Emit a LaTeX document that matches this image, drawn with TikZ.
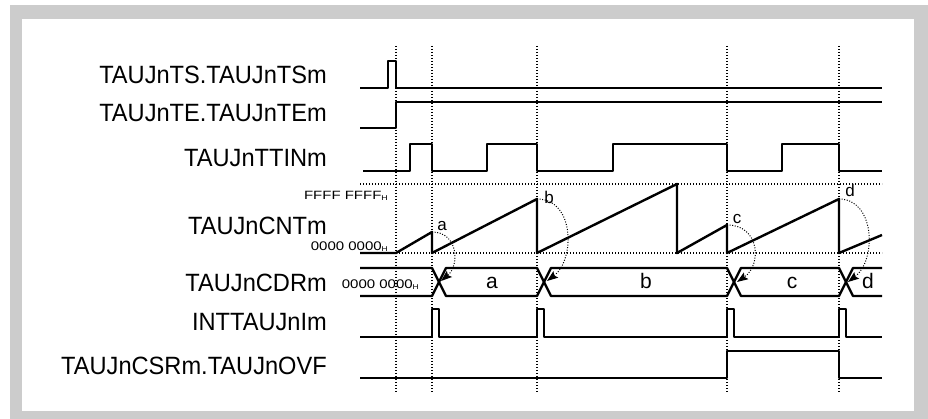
\documentclass[tikz,border=0pt]{standalone}
\usepackage{fontspec}
\setmainfont{Liberation Sans}
\usetikzlibrary{arrows.meta}
\definecolor{frameGray}{HTML}{CCCCCC}
\newcommand{\hexsub}{\raisebox{-0.8pt}{\fontsize{7}{7}\selectfont H}}
\newcommand{\narrow}[1]{\scalebox{0.945}[1]{#1}}

\begin{document}
\begin{tikzpicture}[x=1pt,y=-1pt,
    sig/.style={line width=2.4pt, line join=round},
    guide/.style={line width=1.1pt, dash pattern=on 1.4pt off 1.6pt},
    signame/.style={anchor=base east, inner sep=0pt, font=\fontsize{25}{26}\selectfont},
    hexval/.style={anchor=base east, inner sep=0pt, font=\fontsize{12.5}{13}\selectfont},
    buslbl/.style={anchor=base, inner sep=0pt, font=\fontsize{21}{21}\selectfont},
    peaklbl/.style={anchor=base, inner sep=0pt, font=\fontsize{17}{17}\selectfont},
    loadarrow/.style={draw=black, line width=1pt, dash pattern=on 1pt off 1.6pt,
        -{Stealth[length=11pt,width=8pt,inset=2pt,black]}}]
    \useasboundingbox (0,0) rectangle (928,419);
    % Frame
    \fill[frameGray] (10,5) rectangle (928,419);
    \fill[white] (22,19) rectangle (914,411);

    % Guides
    \foreach \t in {396,432,537,727,839}
        \draw[guide] (\t,46) -- (\t,393);
    \draw[guide] (360,184) -- (882,184);
    \draw[guide] (360,253) -- (882,253);

    % Signal names
    \node[signame] (nTS) at (327,83.5) {\narrow{TAUJnTS.TAUJnTSm}};
    \node[signame] (nTE) at (327,122) {\narrow{TAUJnTE.TAUJnTEm}};
    \node[signame] (nTTIN) at (327,166.5) {\narrow{TAUJnTTINm}};
    \node[signame] (nCNT) at (327,234.5) {\narrow{TAUJnCNTm}};
    \node[signame] (nCDR) at (327,291.5) {\narrow{TAUJnCDRm}};
    \node[signame] (nINT) at (327,330.5) {\narrow{INTTAUJnIm}};
    \node[signame] (nOVF) at (327,374.5) {\narrow{TAUJnCSRm.TAUJnOVF}};

    % Counter values
    \node[hexval, font=\fontsize{12}{13}\selectfont] (vMax) at (388,199.5) {\scalebox{1.25}[1]{FFFF FFFF\hexsub}};
    \node[hexval] (vMin) at (388,250.5) {\scalebox{1.2}[1]{0000 0000\hexsub}};
    \node[hexval] (vCdr) at (419,288.5) {\scalebox{1.2}[1]{0000 0000\hexsub}};

    % Waveforms
    \draw[sig] (360,88) -- (388,88) -- (388,61) -- (396,61) -- (396,88) -- (882,88);
    \draw[sig] (360,128) -- (396,128) -- (396,102) -- (882,102);
    \draw[sig] (363,171) -- (410,171) -- (410,144) -- (432,144) -- (432,171) -- (487,171) -- (487,144) -- (537,144) -- (537,171)
        -- (613,171) -- (613,144) -- (727,144) -- (727,171) -- (782,171) -- (782,144) -- (839,144) -- (839,171) -- (882,171);
    \draw[sig] (360,253) -- (396,253) -- (432,232) -- (432,253) -- (537,199) -- (537,253) -- (677,184) -- (677,253)
        -- (727,225) -- (727,253) -- (839,199) -- (839,253) -- (882,235);
    \draw[sig] (360,268) -- (432,268) -- (446,296) -- (537,296) -- (551,268) -- (727,268) -- (741,296) -- (839,296) -- (853,268) -- (882,268);
    \draw[sig] (360,296) -- (432,296) -- (446,268) -- (537,268) -- (551,296) -- (727,296) -- (741,268) -- (839,268) -- (853,296) -- (882,296);
    \draw[sig] (360,337) -- (432,337) -- (432,309) -- (439,309) -- (439,337) -- (537,337) -- (537,309) -- (544,309) -- (544,337)
        -- (727,337) -- (727,309) -- (734,309) -- (734,337) -- (839,337) -- (839,309) -- (846,309) -- (846,337) -- (882,337);
    \draw[sig] (360,378) -- (727,378) -- (727,351) -- (839,351) -- (839,378) -- (882,378);

    % Register contents
    \node[buslbl] (busA) at (492,288.5) {a};
    \node[buslbl] (busB) at (646,288.5) {b};
    \node[buslbl] (busC) at (792,288.5) {c};
    \node[buslbl] (busD) at (868,288.5) {d};

    % Captured values
    \node[peaklbl] (pkLblA) at (442,231) {a};
    \node[peaklbl] (pkLblB) at (549,203.5) {b};
    \node[peaklbl] (pkLblC) at (737,224) {c};
    \node[peaklbl] (pkLblD) at (850,197) {d};
    \coordinate (pkA) at (432,232);
    \coordinate (pkB) at (537,199);
    \coordinate (pkC) at (727,225);
    \coordinate (pkD) at (839,199);
    \coordinate (tipA) at (441,281);
    \coordinate (tipB) at (547,281);
    \coordinate (tipC) at (737,282);
    \coordinate (tipD) at (848,282);
    \draw[loadarrow] (pkA) .. controls +(26,0) and +(19,-16) .. (tipA);
    \draw[loadarrow] (pkB) .. controls +(38,0) and +(28,-21) .. (tipB);
    \draw[loadarrow] (pkC) .. controls +(33,0) and +(25,-17) .. (tipC);
    \draw[loadarrow] (pkD) .. controls +(36,0) and +(29,-22) .. (tipD);
\end{tikzpicture}
\end{document}
